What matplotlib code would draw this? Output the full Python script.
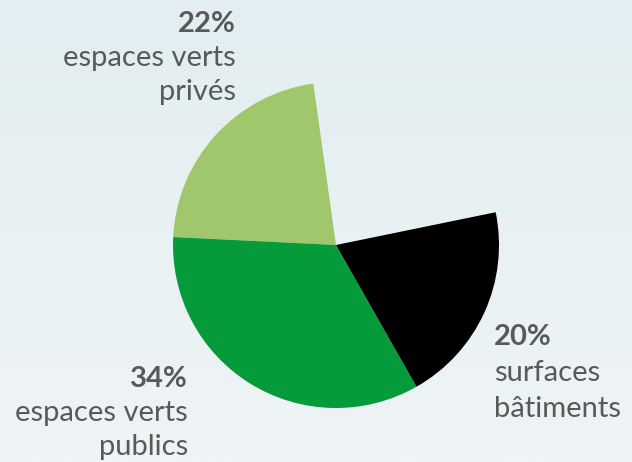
import matplotlib
matplotlib.use("Agg")
import matplotlib.pyplot as plt
import numpy as np
from matplotlib.colors import LinearSegmentedColormap

# Data
categories = ["espaces verts privés", "espaces verts publics", "surfaces bâtiments", "autre"]
values = [22, 34, 20, 24]
colors = ["#a0c76c", "#059a3a", "#000000", "none"]
pct_labels = ["22%", "34%", "20%"]
label_lines = [["espaces verts", "privés"], ["espaces verts", "publics"], ["surfaces", "bâtiments"]]

W, H = 632, 462
fig = plt.figure(figsize=(W / 100, H / 100), dpi=100)

# background gradient
bg = fig.add_axes([0, 0, 1, 1], zorder=0)
cmap = LinearSegmentedColormap.from_list("bg", ["#eff4f6", "#e2eef1"])
grad = np.linspace(0, 1, 256).reshape(-1, 1)
bg.imshow(grad, aspect="auto", cmap=cmap, origin="lower", extent=[0, 1, 0, 1])
bg.axis("off")

ax = fig.add_axes([0, 0, 1, 1], zorder=1)
ax.patch.set_alpha(0)

wedges, _ = ax.pie(values, colors=["#000000"] * len(values), startangle=98, counterclock=True,
                   center=(336, H - 245), radius=163, frame=True)
for w, c in zip(wedges, colors):
    if c == "none":
        w.set_visible(False)
    else:
        w.set_facecolor(c)
        w.set_edgecolor("none")
ax.set_xlim(0, W)
ax.set_ylim(0, H)
ax.axis("off")

txt = "#595959"
fam = ["Lato", "DejaVu Sans"]
fs = 21
# label blocks: (x, first baseline y in px, ha, line spacing)
blocks = [(236, 32, "right", 34), (188, 387, "right", 34), (494, 345, "left", 36)]
for (x, y0, ha, sp), pct, lines in zip(blocks, pct_labels, label_lines):
    ax.text(x, H - y0, pct, ha=ha, va="baseline", fontsize=fs, fontweight="bold",
            color=txt, family=fam)
    for i, ln in enumerate(lines):
        ax.text(x, H - (y0 + sp * (i + 1)), ln, ha=ha, va="baseline", fontsize=fs,
                color=txt, family=fam)

fig.savefig("out.png", dpi=100)
